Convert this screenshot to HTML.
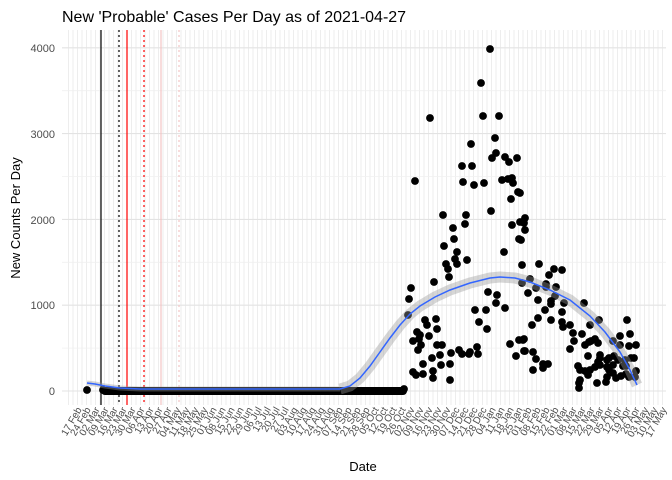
<!DOCTYPE html>
<html><head><meta charset="utf-8"><style>
body{margin:0;background:#fff}
svg{display:block;font-family:"Liberation Sans",sans-serif}
.xl{font-size:10px;fill:#4d4d4d}
</style></head><body>
<svg id="s" width="672" height="480" viewBox="0 0 672 480">
<rect width="672" height="480" fill="#fff"/>
<g id="grid"></g>
<g stroke-width="1.2">
<line x1="101" y1="30" x2="101" y2="405" stroke="#000"/>
<line x1="119" y1="30" x2="119" y2="405" stroke="#000" stroke-dasharray="2,3"/>
<line x1="127" y1="30" x2="127" y2="405" stroke="#f00"/>
<line x1="144" y1="30" x2="144" y2="405" stroke="#f00" stroke-dasharray="2,3"/>
<line x1="161" y1="30" x2="161" y2="405" stroke="#f4c4c4"/>
<line x1="179" y1="30" x2="179" y2="405" stroke="#f4c4c4" stroke-dasharray="2,3"/>
</g>
<rect x="101" y="387" width="306" height="8" rx="4" fill="#000"/>
<g id="pts" fill="#000"></g>
<polyline points="87,383 95,384 105,386 120,388 140,389 340,389" fill="none" stroke="#999" stroke-opacity="0.4" stroke-width="5" stroke-linejoin="round"/>
<polyline points="340,389 350,386 360,378 370,366 380,352 390,338 400,325 410,314 420,306 435,297 450,290 470,283 490,278 500,277 515,278 530,282 550,290 570,300 590,316 605,332 620,352 630,370 637,385" fill="none" stroke="#999" stroke-opacity="0.4" stroke-width="11" stroke-linejoin="round"/>
<polyline points="87,383 95,384 105,386 120,388 140,389 340,389 350,386 360,378 370,366 380,352 390,338 400,325 410,314 420,306 435,297 450,290 470,283 490,278 500,277 515,278 530,282 550,290 570,300 590,316 605,332 620,352 630,370 637,385" fill="none" stroke="#3366ff" stroke-width="1.5"/>
<g font-size="11" fill="#4d4d4d" text-anchor="end">
<text x="55" y="395">0</text><text x="55" y="309">1000</text><text x="55" y="224">2000</text><text x="55" y="138">3000</text><text x="55" y="52">4000</text>
</g>
<text x="62" y="22" font-size="16" fill="#000">New 'Probable' Cases Per Day as of 2021-04-27</text>
<text x="363" y="471" font-size="13" fill="#000" text-anchor="middle">Date</text>
<text transform="translate(20,218) rotate(-90)" font-size="13" fill="#000" text-anchor="middle">New Counts Per Day</text>
<g id="xl" class="xl" text-anchor="end">
<text>17 Feb</text><text>24 Feb</text><text>02 Mar</text><text>09 Mar</text><text>16 Mar</text><text>23 Mar</text><text>30 Mar</text><text>06 Apr</text><text>13 Apr</text><text>20 Apr</text><text>27 Apr</text><text>04 May</text><text>11 May</text><text>18 May</text><text>25 May</text><text>01 Jun</text><text>08 Jun</text><text>15 Jun</text><text>22 Jun</text><text>29 Jun</text><text>06 Jul</text><text>13 Jul</text><text>20 Jul</text><text>27 Jul</text><text>03 Aug</text><text>10 Aug</text><text>17 Aug</text><text>24 Aug</text><text>31 Aug</text><text>07 Sep</text><text>14 Sep</text><text>21 Sep</text><text>28 Sep</text><text>05 Oct</text><text>12 Oct</text><text>19 Oct</text><text>26 Oct</text><text>02 Nov</text><text>09 Nov</text><text>16 Nov</text><text>23 Nov</text><text>30 Nov</text><text>07 Dec</text><text>14 Dec</text><text>21 Dec</text><text>28 Dec</text><text>04 Jan</text><text>11 Jan</text><text>18 Jan</text><text>25 Jan</text><text>01 Feb</text><text>08 Feb</text><text>15 Feb</text><text>22 Feb</text><text>01 Mar</text><text>08 Mar</text><text>15 Mar</text><text>22 Mar</text><text>29 Mar</text><text>05 Apr</text><text>12 Apr</text><text>19 Apr</text><text>26 Apr</text><text>03 May</text><text>10 May</text><text>17 May</text>
</g>
</svg>
<script>
var NS="http://www.w3.org/2000/svg";
function el(t,a,p){var e=document.createElementNS(NS,t);for(var k in a)e.setAttribute(k,a[k]);p.appendChild(e);return e;}
var g=document.getElementById("grid");
for(var x=68.5;x<666;x+=4.5){el("line",{x1:x,y1:30,x2:x,y2:405,stroke:"#ebebeb","stroke-width":0.9},g);}
for(var i=0;i<=8;i++){var y=391-i*42.9;el("line",{x1:62,y1:y,x2:666,y2:y,stroke:i%2?"#f0f0f0":"#e3e3e3","stroke-width":i%2?0.8:1.1},g);}
var ls=document.getElementById("xl").children;
for(var i=0;i<ls.length;i++){var tx=76+9.0*i,ty=406;ls[i].setAttribute("transform","translate("+tx+","+ty+") rotate(-60)");ls[i].setAttribute("dy","0.7em");}
var P=[[87,390],[103,390],[490,49],[481,83],[430,118],[483,116],[499,116],[471,144],[495,138],[496,153],[492,158],[505,157],[462,166],[472,166],[517,158],[509,162],[508,179],[502,180],[512,178],[415,181],[463,182],[474,185],[484,183],[513,183],[518,192],[511,199],[491,211],[443,215],[466,215],[453,228],[465,224],[512,225],[520,222],[525,218],[454,239],[521,240],[444,246],[457,252],[455,259],[504,252],[446,264],[448,269],[457,264],[467,260],[522,265],[449,277],[434,282],[488,292],[497,295],[496,303],[505,308],[411,288],[408,315],[409,299],[475,310],[486,310],[479,322],[487,329],[425,320],[427,325],[436,319],[417,332],[437,329],[420,335],[429,336],[419,339],[413,341],[421,345],[418,350],[437,345],[442,345],[519,340],[510,344],[524,339],[525,351],[516,356],[451,353],[459,350],[462,354],[469,354],[470,352],[477,347],[478,354],[440,355],[432,358],[423,364],[441,365],[450,364],[413,372],[416,375],[423,374],[433,371],[450,380],[433,378],[404,389],
[520,193],[524,223],[525,230],[519,239],[539,264],[549,275],[546,287],[554,269],[562,270],[530,279],[546,284],[522,283],[528,293],[536,288],[556,287],[555,296],[538,300],[545,310],[551,304],[564,303],[551,301],[538,318],[562,312],[532,325],[584,303],[590,325],[589,342],[551,320],[562,322],[570,325],[563,327],[573,333],[599,320],[627,320],[630,334],[620,336],[582,334],[598,343],[574,341],[570,349],[585,345],[591,341],[595,339],[613,341],[620,345],[629,346],[636,345],[523,340],[524,351],[533,352],[543,364],[548,364],[536,359],[533,370],[543,368],[588,356],[600,355],[614,356],[598,362],[600,358],[607,360],[609,358],[618,360],[623,366],[625,360],[590,370],[578,366],[585,371],[600,365],[609,370],[626,366],[634,358],[631,358],[636,371],[621,376],[607,367],[580,370],[579,383],[580,380],[588,375],[606,382],[613,373],[616,378],[626,374],[629,377],[635,377],[579,388],[597,383],[607,377],[613,365],[595,367]];
var pg=document.getElementById("pts");
P.forEach(function(p){el("circle",{cx:p[0],cy:p[1],r:3.9},pg);});
</script>
</body></html>
